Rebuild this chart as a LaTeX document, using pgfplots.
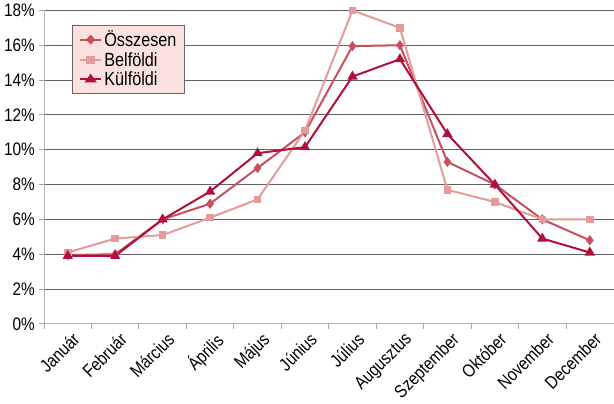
\documentclass[border=0pt]{standalone}
\usepackage{pgfplots}
\pgfplotsset{compat=1.18}
\usepackage{fontspec}
\setmainfont{Liberation Sans}[FakeStretch=0.85]
\definecolor{osz}{HTML}{C8505E}
\definecolor{bel}{HTML}{E29C9C}
\definecolor{kul}{HTML}{B0103C}
\definecolor{leg}{HTML}{F9E2E0}
\begin{document}
\begin{tikzpicture}
\begin{axis}[
  scale only axis,
  width=565bp, height=311bp,
  xmin=-0.5, xmax=11.5,
  ymin=0, ymax=18,
  ytick={0,2,...,18},
  yticklabel={\pgfmathprintnumber{\tick}\%},
  /pgf/number format/assume math mode=true,
  xtick={0,...,11},
  xticklabels={Január,Február,Március,Április,Május,Június,Július,Augusztus,Szeptember,Október,November,December},
  x tick label style={rotate=45, anchor=north east, inner sep=1pt, xshift=2pt, yshift=-3pt},
  y tick label style={inner sep=4pt},
  minor xtick={-0.5,0.5,...,10.5},
  tick label style={font=\fontsize{18}{18}\selectfont},
  axis x line*=bottom, axis y line*=left,
  axis line style={gray!60, line width=1pt},
  x axis line style={-}, y axis line style={-},
  major x tick style={draw=none},
  minor tick length=5pt,
  minor x tick style={gray!70, line width=1pt},
  tick align=outside,
  major tick length=5pt,
  y tick style={gray!70, line width=1pt},
  ymajorgrids,
  grid style={gray!75!black, line width=0.9pt},
  legend style={at={(0.05,0.955)}, anchor=north west, fill=leg, draw=gray!80!black, line width=0.8pt,
    font=\fontsize{19}{20}\selectfont, row sep=0pt, inner xsep=6pt, inner ysep=4pt},
  legend cell align=left,
  legend image post style={xscale=1.25},
  every axis plot/.append style={line width=2pt},
]
\addplot[osz, mark=diamond*, mark size=3.5pt, mark options={solid}] coordinates {
(0,3.95)(1,4.0)(2,6.0)(3,6.9)(4,8.95)(5,11.0)(6,15.95)(7,16.0)(8,9.3)(9,8.0)(10,6.0)(11,4.8)};
\addlegendentry{Összesen}
\addplot[bel, mark=square*, mark size=2.8pt] coordinates {
(0,4.1)(1,4.9)(2,5.1)(3,6.1)(4,7.15)(5,11.1)(6,18.0)(7,17.0)(8,7.7)(9,7.0)(10,6.0)(11,6.0)};
\addlegendentry{Belföldi}
\addplot[kul, mark=triangle*, mark size=4pt] coordinates {
(0,3.9)(1,3.9)(2,6.0)(3,7.6)(4,9.8)(5,10.15)(6,14.2)(7,15.2)(8,10.9)(9,8.0)(10,4.9)(11,4.1)};
\addlegendentry{Külföldi}
\end{axis}
\end{tikzpicture}
\end{document}
